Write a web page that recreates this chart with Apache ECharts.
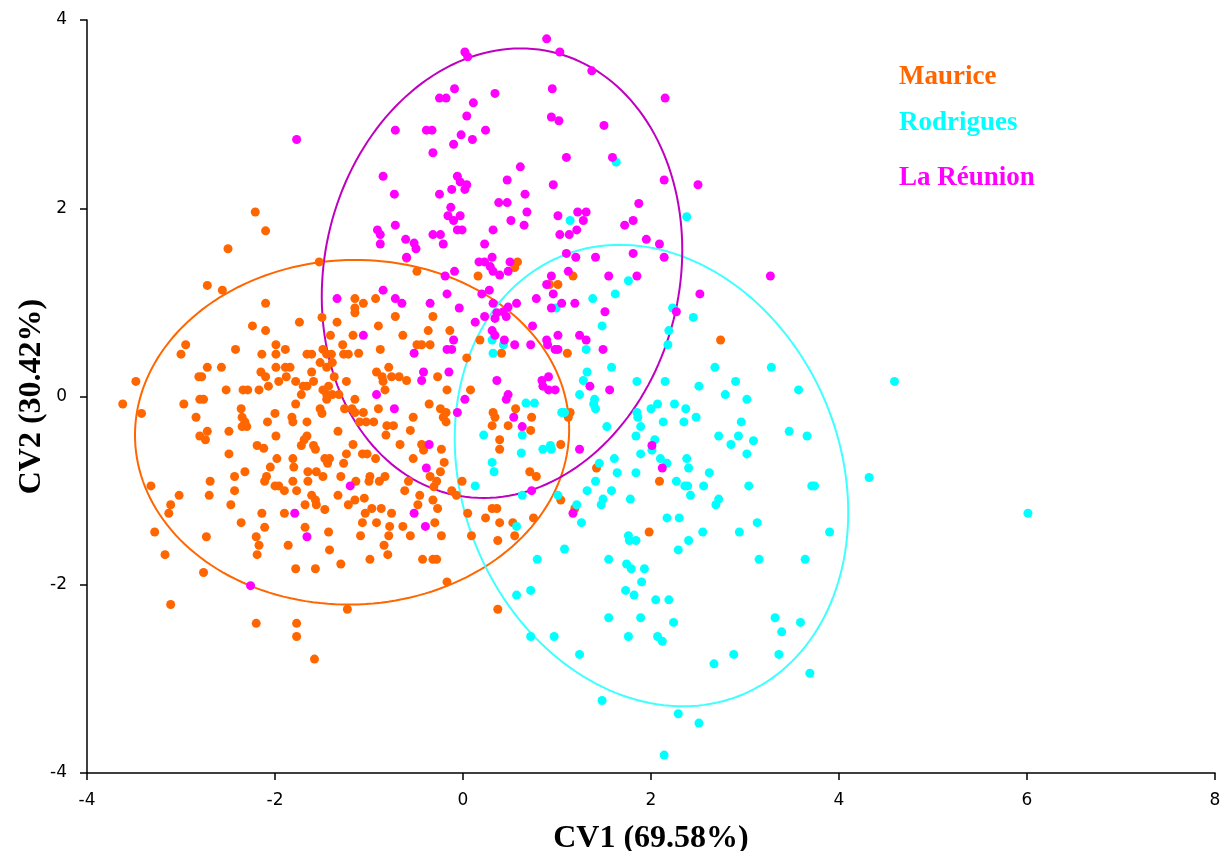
<!DOCTYPE html>
<html>
<head>
<meta charset="utf-8">
<script src="https://cdn.jsdelivr.net/npm/echarts@6/dist/echarts.min.js"></script>
<style>html,body{margin:0;padding:0;background:#fff;}#chart{width:1226px;height:851px;}</style>
</head>
<body>
<div id="chart"></div>
<script>
var xTicks = [-4, -2, 0, 2, 4, 6, 8];
var yTicks = [-4, -2, 0, 2, 4];
var seriesNames = ['Maurice', 'Rodrigues', 'La Réunion'];
var pointColors = ['#FF6600', '#00FFFF', '#FF00FF'];
var ellipseColors = ['#FF6600', '#40FFFF', '#C000C0'];

var maurice = [
[-2.21,1.96],[-2.10,1.76],[-2.50,1.57],[-1.53,1.43],[-2.72,1.18],[-2.56,1.13],[-2.10,0.99],[-1.74,0.79],[-1.50,0.84],[-1.34,0.79],[-2.24,0.75],[-2.10,0.70],[-1.41,0.65],[-2.95,0.55],[-3.00,0.45],[-2.42,0.50],[-1.99,0.55],[-1.89,0.50],[-2.14,0.45],[-1.99,0.45],[-1.66,0.45],[-1.61,0.45],[-1.49,0.50],[-1.45,0.45],[-1.40,0.45],[-1.28,0.55],[-1.27,0.45],[-1.22,0.45],[-1.52,0.36],[-1.39,0.36],[-1.45,0.31],[-2.72,0.31],[-2.57,0.31],[-2.81,0.21],[-2.78,0.21],[-2.15,0.26],[-2.10,0.21],[-1.99,0.31],[-1.89,0.31],[-1.84,0.31],[-1.88,0.21],[-1.61,0.26],[-1.37,0.21],[-1.96,0.16],[-1.78,0.16],[-1.70,0.11],[-1.66,0.11],[-1.59,0.16],[-1.43,0.11],[-1.24,0.16],[-2.07,0.11],[-3.48,0.16],[-2.52,0.07],[-2.34,0.07],[-2.29,0.07],[-2.17,0.07],[-1.72,0.02],[-1.49,0.07],[-1.45,0.02],[-1.39,0.02],[-1.32,0.02],[-1.45,-0.03],[-2.80,-0.03],[-2.76,-0.03],[-3.62,-0.08],[-2.97,-0.08],[-1.78,-0.08],[-3.42,-0.18],[-2.36,-0.13],[-2.00,-0.18],[-1.52,-0.13],[-1.50,-0.18],[-1.26,-0.13],[-2.84,-0.22],[-2.35,-0.22],[-2.32,-0.27],[-2.35,-0.32],[-2.30,-0.32],[-1.82,-0.22],[-1.81,-0.27],[-1.66,-0.27],[-2.08,-0.27],[-2.72,-0.37],[-2.80,-0.42],[-2.74,-0.46],[-2.49,-0.37],[-1.99,-0.42],[-1.66,-0.42],[-1.69,-0.46],[-1.33,-0.37],[-2.19,-0.52],[-2.12,-0.55],[-1.72,-0.52],[-1.59,-0.52],
[-1.57,-0.56],[-2.49,-0.61],[-1.98,-0.66],[-1.81,-0.66],[-1.80,-0.75],[-1.47,-0.66],[-1.42,-0.66],[-1.44,-0.71],[-1.24,-0.61],[-1.27,-0.71],[-2.05,-0.75],[-1.65,-0.80],[-1.56,-0.80],[-1.49,-0.85],[-1.30,-0.85],[-2.32,-0.80],[-2.43,-0.85],[-2.09,-0.85],[-2.11,-0.90],[-1.81,-0.90],[-1.65,-0.90],[-2.00,-0.95],[-1.96,-0.95],[-1.90,-1.00],[-1.77,-1.00],[-2.69,-0.90],[-3.32,-0.95],[-2.43,-1.00],[-2.70,-1.05],[-3.02,-1.05],[-3.11,-1.15],[-3.13,-1.24],[-2.47,-1.15],[-1.61,-1.05],[-1.57,-1.10],[-1.56,-1.15],[-1.68,-1.15],[-1.47,-1.20],[-1.33,-1.05],[-1.22,-1.15],[-2.14,-1.24],[-1.90,-1.24],[-2.36,-1.34],[-2.11,-1.39],[-1.68,-1.39],[-1.43,-1.44],[-3.28,-1.44],[-2.73,-1.49],[-2.20,-1.49],[-2.17,-1.58],[-2.19,-1.68],[-1.86,-1.58],[-1.42,-1.63],[-3.17,-1.68],[-1.78,-1.83],[-1.57,-1.83],[-1.30,-1.78],[-2.76,-1.87],[-1.23,-2.26],[-3.11,-2.21],[-2.20,-2.41],[-1.77,-2.41],[-1.77,-2.55],[-1.58,-2.79],
[-1.15,1.04],[-1.06,0.99],[-1.15,0.94],[-1.15,0.89],[-0.93,1.04],[-0.72,0.85],[-0.32,0.85],[-0.90,0.75],[-0.64,0.65],[-0.37,0.70],[-0.14,0.70],[-1.17,0.65],[-1.11,0.46],[-0.49,0.55],[-0.44,0.55],[-0.35,0.55],[-0.88,0.50],[0.04,0.41],[0.18,0.60],[0.41,0.46],[1.11,0.46],
[-0.92,0.26],[-0.79,0.31],[-0.86,0.21],[-0.76,0.21],[-0.68,0.21],[-0.85,0.16],[-0.83,0.07],[-0.60,0.17],
[-0.27,0.21],[-0.17,0.07],[0.08,0.07],[-1.15,-0.03],[-1.18,-0.13],[-1.15,-0.17],[-0.90,-0.13],[-0.36,-0.08],[-0.24,-0.13],[-0.18,-0.17],[-0.21,-0.22],[-0.18,-0.27],[-0.53,-0.22],[-1.06,-0.17],[-1.10,-0.27],[-1.03,-0.27],[-0.95,-0.27],[-0.81,-0.31],[-0.74,-0.31],[-0.82,-0.41],[-0.56,-0.36],[0.32,-0.17],[0.34,-0.22],[0.56,-0.13],[0.73,-0.22],[0.31,-0.31],[0.48,-0.31],[0.72,-0.36],[0.39,-0.46],[0.39,-0.56],[1.14,-0.17],[1.12,-0.22],[1.04,-0.51],[-1.17,-0.51],[-1.07,-0.61],[-1.02,-0.61],[-0.93,-0.66],[-0.67,-0.51],[-0.44,-0.51],[-0.42,-0.57],[-0.23,-0.56],[-0.53,-0.66],[-0.20,-0.70],[-0.24,-0.80],[0.71,-0.80],[-0.99,-0.85],[-0.83,-0.85],
[-1.00,-0.90],[-0.89,-0.90],[-1.14,-0.90],[-1.15,-1.10],[-1.05,-1.08],[-1.04,-1.24],[-0.97,-1.19],[-0.87,-1.19],[-0.76,-1.24],[-1.07,-1.34],[-0.92,-1.34],[-0.78,-1.38],[-1.09,-1.48],[-0.79,-1.48],[-0.84,-1.58],[-0.80,-1.68],[-0.99,-1.73],[-0.58,-0.90],[-0.62,-1.00],[-0.46,-1.05],[-0.48,-1.15],[-0.35,-0.85],[-0.28,-0.90],[-0.31,-0.96],[-0.32,-1.10],[-0.27,-1.19],[-0.64,-1.38],[-0.56,-1.48],[-0.30,-1.34],[-0.23,-1.48],[-0.43,-1.73],[-0.32,-1.73],[-0.28,-1.73],[-0.12,-1.00],[-0.07,-1.05],[-0.01,-0.90],[0.05,-1.24],[0.09,-1.48],[0.31,-1.19],[0.36,-1.19],[0.24,-1.29],[0.39,-1.34],[0.37,-1.53],[0.53,-1.34],[0.55,-1.48],[0.75,-1.29],[0.78,-0.85],[1.04,-1.10],[1.19,-1.19],[-0.17,-1.97],[0.37,-2.26],
[-0.49,1.33],[-0.60,1.47],[0.16,1.28],[0.58,1.43],[0.55,1.37],[1.17,1.28],[1.01,1.19],[0.92,1.19],[2.74,0.60],[1.42,-0.76],[2.09,-0.90],[1.98,-1.44]
];

var rodrigues = [
[0.99,0.94],[0.31,0.60],[0.43,0.55],[0.32,0.46],[1.31,0.50],[1.32,0.26],[1.28,0.17],[1.24,0.02],[0.67,-0.07],[0.76,-0.07],[1.05,-0.17],[1.08,-0.17],[0.22,-0.41],[0.63,-0.41],[0.62,-0.60],[0.85,-0.56],[0.93,-0.52],[0.94,-0.56],[0.31,-0.70],[0.33,-0.80],
[0.13,-0.95],[0.63,-1.05],[1.01,-1.05],[1.21,-1.15],[1.32,-1.00],[1.26,-1.34],[0.57,-1.38],[1.08,-1.62],[0.79,-1.73],[0.57,-2.11],[0.72,-2.06],[0.72,-2.55],[0.97,-2.55],[1.24,-2.74],
[1.63,2.49],[2.38,1.91],[1.14,1.87],[1.76,1.23],
[1.62,1.09],[1.38,1.04],[2.23,0.94],[2.45,0.84],[1.48,0.75],[2.19,0.70],[2.18,0.55],[1.58,0.31],[1.40,-0.03],[1.39,-0.08],[1.41,-0.13],[1.85,0.16],[2.15,0.16],[2.68,0.31],[3.28,0.31],[2.51,0.11],[2.90,0.16],[2.79,0.02],[3.02,-0.03],[3.57,0.07],[2.07,-0.08],[2.00,-0.13],[2.25,-0.08],[2.37,-0.13],[1.85,-0.17],[1.86,-0.22],[2.48,-0.22],[1.89,-0.32],[2.13,-0.27],[2.35,-0.27],[2.96,-0.27],[1.53,-0.32],[1.84,-0.42],[2.72,-0.42],[2.93,-0.42],[3.47,-0.37],[3.66,-0.42],[2.04,-0.46],[2.01,-0.57],[2.85,-0.51],[3.09,-0.47],[3.02,-0.61],[1.89,-0.61],[1.45,-0.71],[1.61,-0.66],[2.10,-0.66],[2.17,-0.71],[2.38,-0.66],[2.40,-0.76],[1.64,-0.81],[1.84,-0.81],[2.62,-0.81],[1.41,-0.90],[1.58,-1.00],[1.49,-1.09],[1.47,-1.15],[1.78,-1.09],[2.27,-0.90],[2.36,-0.95],[2.39,-0.95],[2.42,-1.05],[2.56,-0.95],[2.72,-1.09],[2.69,-1.15],[3.04,-0.95],[3.71,-0.95],[3.74,-0.95],
[2.17,-1.29],[2.30,-1.29],[1.76,-1.48],[1.77,-1.53],[1.84,-1.53],[2.55,-1.44],[2.40,-1.53],[2.29,-1.63],[2.94,-1.44],[3.13,-1.34],[3.90,-1.44],[1.55,-1.73],[1.74,-1.78],[1.79,-1.83],[1.93,-1.83],[1.90,-1.97],[3.15,-1.73],[3.64,-1.73],[1.73,-2.06],[1.82,-2.11],[2.05,-2.16],[2.19,-2.16],[1.55,-2.35],[1.89,-2.35],[2.24,-2.40],[1.76,-2.55],[2.07,-2.55],[2.12,-2.60],[3.32,-2.35],[3.39,-2.50],[3.59,-2.40],[3.36,-2.74],[2.88,-2.74],[2.67,-2.84],[3.69,-2.94],[1.48,-3.23],[2.29,-3.37],[2.51,-3.47],[2.14,-3.81],
[4.59,0.16],[4.32,-0.86],[6.01,-1.24]
];

var reunion = [
[-1.34,1.04],[-1.20,-0.95],[-1.79,-1.24],[-1.66,-1.49],[-2.26,-2.01],
[-0.85,1.13],[-0.72,1.04],[-0.65,0.99],[-0.35,0.99],[-0.17,1.09],[-0.04,0.94],[0.20,1.09],[0.28,1.13],[0.32,0.99],[0.36,0.89],[0.43,0.90],[0.48,0.95],[0.57,0.99],[0.34,0.83],[0.46,0.85],[0.23,0.85],[0.78,1.04],[0.89,1.19],[0.96,1.09],[1.05,0.99],[0.94,0.94],[1.19,0.99],[0.13,0.79],[0.31,0.70],[0.34,0.65],[0.44,0.60],[0.55,0.55],[0.72,0.55],[0.74,0.75],[0.89,0.60],[0.90,0.55],[1.01,0.65],[0.98,0.50],[1.01,0.50],[1.24,0.65],[1.31,0.60],[-0.10,0.60],[-1.06,0.65],[-0.17,0.50],[-0.12,0.50],[-0.52,0.46],[-0.42,0.26],[-0.44,0.17],[-0.15,0.26],[0.36,0.17],[0.84,0.17],[0.91,0.21],[0.85,0.11],[0.91,0.07],[0.98,0.07],[-0.92,0.02],[-0.73,-0.13],[0.02,-0.03],[-0.06,-0.17],[0.48,0.02],[0.46,-0.03],[0.54,-0.22],[0.63,-0.32],[1.24,-0.56],[-0.36,-0.51],[-0.39,-0.76],
[-0.52,-1.24],[-0.40,-1.38],[0.73,-1.00],[1.17,-1.24],
[0.02,3.66],[0.05,3.61],[-0.09,3.27],[-0.25,3.17],[-0.18,3.17],[0.11,3.12],[0.34,3.22],[0.04,2.98],[-0.72,2.83],[-0.39,2.83],[-0.33,2.83],[0.24,2.83],[-0.02,2.78],[0.10,2.73],[-0.10,2.68],[-0.32,2.59],[-1.77,2.73],[-0.85,2.34],[-0.06,2.34],[-0.03,2.28],[0.04,2.25],[0.02,2.20],[-0.12,2.20],[0.61,2.44],[0.47,2.30],[-0.73,2.15],[-0.25,2.15],[0.66,2.15],[-0.13,2.01],[0.38,2.06],[0.47,2.06],[-0.16,1.92],[-0.10,1.87],[-0.03,1.92],[0.68,1.96],[-0.06,1.77],[-0.01,1.77],[0.51,1.87],[0.65,1.82],[0.32,1.77],[-0.91,1.77],[-0.88,1.72],[-0.88,1.62],[-0.72,1.82],[-0.61,1.67],[-0.52,1.63],[-0.50,1.57],[-0.32,1.72],[-0.24,1.72],[-0.21,1.62],[0.23,1.62],[-0.60,1.48],[0.31,1.48],[0.17,1.43],[0.23,1.43],[0.29,1.38],[0.32,1.33],[0.39,1.29],[0.50,1.43],[0.48,1.33],[-0.09,1.33],[-0.19,1.28],
[0.89,3.80],[1.03,3.66],[1.37,3.46],[0.95,3.27],[2.15,3.17],[0.94,2.97],[1.02,2.93],[1.50,2.88],[1.10,2.54],[1.59,2.54],[0.96,2.25],[2.14,2.30],[2.50,2.25],[1.87,2.05],[1.01,1.92],[1.22,1.96],[1.31,1.96],[1.28,1.87],[1.21,1.77],[1.13,1.72],[1.03,1.72],[1.72,1.82],[1.81,1.87],[1.95,1.67],[2.09,1.62],[1.10,1.52],[1.20,1.48],[1.41,1.48],[1.81,1.52],[2.14,1.48],[1.12,1.33],[0.94,1.28],[1.55,1.28],[1.85,1.28],
[3.27,1.28],[2.52,1.09],[2.27,0.90],[1.51,0.90],[1.49,0.50],[1.35,0.11],[1.56,0.07],[2.01,-0.52],[2.12,-0.76]
];

// ellipse parameters: [centerX, centerY, semiAxisA, semiAxisB, angle of A axis in degrees]
var ellipseMaurice = [-1.18, -0.38, 2.31, 1.83, 2];
var ellipseRodrigues = [2.005, -0.84, 2.52, 2.01, 112.6];
var ellipseReunion = [0.415, 1.31, 2.41, 1.89, 77.5];

var chart = echarts.init(document.getElementById('chart'));

function ellipseSeries(params, color) {
  return {
    type: 'custom',
    silent: true,
    z: 1,
    data: [params],
    encode: {x: 0, y: 1},
    renderItem: function (p, api) {
      var cx = api.value(0), cy = api.value(1), a = api.value(2), b = api.value(3);
      var th = api.value(4) * Math.PI / 180;
      var pts = [];
      var n = 180;
      for (var i = 0; i <= n; i++) {
        var t = 2 * Math.PI * i / n;
        var dx = a * Math.cos(t) * Math.cos(th) - b * Math.sin(t) * Math.sin(th);
        var dy = a * Math.cos(t) * Math.sin(th) + b * Math.sin(t) * Math.cos(th);
        pts.push(api.coord([cx + dx, cy + dy]));
      }
      return {
        type: 'polyline',
        shape: {points: pts},
        style: {stroke: color, lineWidth: 2, fill: null}
      };
    }
  };
}

function scatterSeries(name, data, color, z) {
  return {
    name: name,
    type: 'scatter',
    data: data,
    symbolSize: 9,
    z: z,
    itemStyle: {color: color, opacity: 1},
    emphasis: {disabled: true}
  };
}

var legendTop = [80, 126, 181];

chart.setOption({
  animation: false,
  backgroundColor: '#ffffff',
  grid: {left: 87, right: 11, top: 20, bottom: 78, containLabel: false, outerBoundsMode: 'none'},
  xAxis: {
    type: 'value', min: xTicks[0], max: xTicks[xTicks.length - 1], interval: 2,
    name: 'CV1 (69.58%)', nameLocation: 'middle', nameGap: 50, nameMoveOverlap: false,
    nameTextStyle: {fontFamily: 'Liberation Serif', fontWeight: 'bold', fontSize: 32, color: '#000'},
    axisLine: {onZero: false, lineStyle: {color: '#000', width: 1.5}},
    axisTick: {show: true, length: 7, lineStyle: {color: '#000', width: 1.5}},
    axisLabel: {fontFamily: 'DejaVu Sans', fontSize: 17, color: '#000', margin: 19},
    splitLine: {show: false}
  },
  yAxis: {
    type: 'value', min: yTicks[0], max: yTicks[yTicks.length - 1], interval: 2,
    name: 'CV2 (30.42%)', nameLocation: 'middle', nameGap: 39, nameMoveOverlap: false,
    nameTextStyle: {fontFamily: 'Liberation Serif', fontWeight: 'bold', fontSize: 32, color: '#000'},
    axisLine: {onZero: false, lineStyle: {color: '#000', width: 1.5}},
    axisTick: {show: true, length: 7, lineStyle: {color: '#000', width: 1.5}},
    axisLabel: {fontFamily: 'DejaVu Sans', fontSize: 17, color: '#000', margin: 20},
    splitLine: {show: false}
  },
  graphic: seriesNames.map(function (n, i) {
    return {
      type: 'text', left: 899, top: legendTop[i] - 16,
      style: {text: n, fill: pointColors[i], font: 'bold 27px "Liberation Serif"'}
    };
  }),
  series: [
    ellipseSeries(ellipseMaurice, ellipseColors[0]),
    ellipseSeries(ellipseRodrigues, ellipseColors[1]),
    ellipseSeries(ellipseReunion, ellipseColors[2]),
    scatterSeries(seriesNames[0], maurice, pointColors[0], 2),
    scatterSeries(seriesNames[1], rodrigues, pointColors[1], 3),
    scatterSeries(seriesNames[2], reunion, pointColors[2], 4)
  ]
});
</script>
</body>
</html>
